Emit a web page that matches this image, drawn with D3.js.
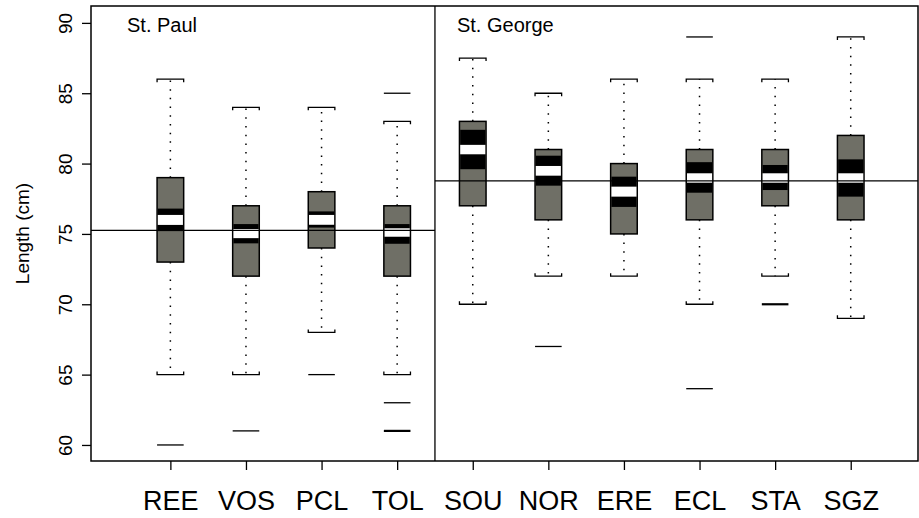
<!DOCTYPE html>
<html>
<head>
<meta charset="utf-8">
<script src="https://cdn.jsdelivr.net/npm/d3@7"></script>
<style>
    body { margin: 0; background: white; }
    text { font-family: "Liberation Sans", Arial, sans-serif; fill: black; }
</style>
</head>
<body>
<div id="chart"></div>
<script>
// values (cm)
const sites = ["REE", "VOS", "PCL", "TOL", "SOU", "NOR", "ERE", "ECL", "STA", "SGZ"]
const q1 = [73, 72, 74, 72, 77, 76, 75, 76, 77, 76]
const q3 = [79, 77, 78, 77, 83, 81, 80, 81, 81, 82]
const whiskLo = [65, 65, 68, 65, 70, 72, 72, 70, 72, 69]
const whiskHi = [86, 84, 84, 83, 87.5, 85, 86, 86, 86, 89]
// black band and the white band inside it
const bandLo = [75.2, 74.33, 75.45, 74.3, 79.6, 78.43, 76.92, 77.93, 78.12, 77.65]
const bandHi = [76.8, 75.7, 76.6, 75.7, 82.4, 80.56, 79.07, 80.1, 79.9, 80.3]
const midLo = [75.64, 74.7, 75.65, 74.8, 80.66, 79.14, 77.65, 78.64, 78.64, 78.64]
const midHi = [76.35, 75.35, 76.35, 75.4, 81.33, 79.83, 78.36, 79.31, 79.31, 79.31]
const outliers = [[60], [61], [65], [85, 63, 61, 61], [], [67], [], [89, 64], [70, 70], []]

const islands = ["St. Paul", "St. George"]
const islandMean = [75.25, 78.77]
const yTicks = [60, 65, 70, 75, 80, 85, 90]

const width = 919, height = 518
const mLeft = 91, mRight = 918, mTop = 6, mBottom = 461

const x = d3.scaleLinear().domain([-0.05, 10.89]).range([mLeft, mRight])
const y = d3.scaleLinear().domain([58.86, 91.2]).range([mBottom, mTop])
const half = 13.3
const divX = x(4.5)

const svg = d3.select("#chart").append("svg")
    .attr("width", width)
    .attr("height", height)

const g = svg.append("g")

let boxes = g.selectAll(".box")
    .data(sites.map((s, i) => ({ site: s, pos: i + 1, i: i })))
    .join("g")
    .attr("class", "box")

// whiskers (dotted)
boxes.append("line")
    .attr("x1", d => x(d.pos)).attr("x2", d => x(d.pos))
    .attr("y1", d => y(q3[d.i])).attr("y2", d => y(whiskHi[d.i]))
    .attr("stroke", "black").attr("stroke-width", 1.5)
    .attr("stroke-dasharray", "1.5,7.2")
boxes.append("line")
    .attr("x1", d => x(d.pos)).attr("x2", d => x(d.pos))
    .attr("y1", d => y(q1[d.i])).attr("y2", d => y(whiskLo[d.i]))
    .attr("stroke", "black").attr("stroke-width", 1.5)
    .attr("stroke-dasharray", "1.5,7.2")

// staples, small feet pointing back to the box
let staple = function (sel, val, dir) {
    sel.append("path")
        .attr("d", d => {
            let cx = x(d.pos), cy = y(val[d.i])
            return `M${cx - half},${cy + dir * 3}V${cy}H${cx + half}V${cy + dir * 3}`
        })
        .attr("fill", "none").attr("stroke", "black").attr("stroke-width", 1.3)
}
staple(boxes, whiskHi, 1)
staple(boxes, whiskLo, -1)

boxes.append("rect")
    .attr("x", d => x(d.pos) - half)
    .attr("width", half * 2)
    .attr("y", d => y(q3[d.i]))
    .attr("height", d => y(q1[d.i]) - y(q3[d.i]))
    .attr("fill", "#6f6f66")
    .attr("stroke", "black").attr("stroke-width", 1.5)

boxes.append("rect")
    .attr("x", d => x(d.pos) - half + 0.75)
    .attr("width", half * 2 - 1.5)
    .attr("y", d => y(bandHi[d.i]))
    .attr("height", d => y(bandLo[d.i]) - y(bandHi[d.i]))
    .attr("fill", "black")

boxes.append("rect")
    .attr("x", d => x(d.pos) - half + 0.75)
    .attr("width", half * 2 - 1.5)
    .attr("y", d => y(midHi[d.i]))
    .attr("height", d => y(midLo[d.i]) - y(midHi[d.i]))
    .attr("fill", "white")

// outliers drawn as dashes, thicker where values repeat
boxes.each(function (d) {
    let counts = d3.rollup(outliers[d.i], v => v.length, v => v)
    d3.select(this).selectAll(".out")
        .data(Array.from(counts))
        .join("line")
        .attr("class", "out")
        .attr("x1", x(d.pos) - half).attr("x2", x(d.pos) + half)
        .attr("y1", o => y(o[0])).attr("y2", o => y(o[0]))
        .attr("stroke", "black")
        .attr("stroke-width", o => o[1] > 1 ? 2.2 : 1.3)
})

// island means and panel names
islands.forEach(function (name, k) {
    let x0 = k == 0 ? mLeft : divX
    let x1 = k == 0 ? divX : mRight
    g.append("line")
        .attr("x1", x0).attr("x2", x1)
        .attr("y1", y(islandMean[k])).attr("y2", y(islandMean[k]))
        .attr("stroke", "black").attr("stroke-width", 1.3)
    g.append("text")
        .attr("x", k == 0 ? mLeft + 36 : divX + 22)
        .attr("y", 32)
        .attr("font-size", 20)
        .text(name)
})

// panel divider and frame
g.append("line")
    .attr("x1", divX).attr("x2", divX)
    .attr("y1", mTop).attr("y2", mBottom)
    .attr("stroke", "black").attr("stroke-width", 1.3)
g.append("rect")
    .attr("x", mLeft).attr("y", mTop)
    .attr("width", mRight - mLeft).attr("height", mBottom - mTop)
    .attr("fill", "none").attr("stroke", "black").attr("stroke-width", 1.5)

// axes
const yAxis = g.append("g")
    .attr("transform", `translate(${mLeft},0)`)
    .call(d3.axisLeft(y).tickValues(yTicks).tickSize(9).tickFormat(d3.format("d")))
yAxis.select(".domain").remove()
yAxis.selectAll("line").attr("stroke-width", 1.3)
yAxis.selectAll("text")
    .attr("font-size", 19)
    .attr("font-family", "Liberation Sans, Arial, sans-serif")
    .attr("fill", "black")
    .attr("text-anchor", "middle")
    .attr("x", 0).attr("y", 0).attr("dy", 0)
    .attr("transform", "translate(-19,0) rotate(-90)")

const xAxis = g.append("g")
    .attr("transform", `translate(0,${mBottom})`)
    .call(d3.axisBottom(x).tickValues(d3.range(1, 11)).tickSize(9).tickFormat(d => sites[d - 1]))
xAxis.select(".domain").remove()
xAxis.selectAll("line").attr("stroke-width", 1.3)
xAxis.selectAll("text")
    .attr("font-size", 27)
    .attr("font-family", "Liberation Sans, Arial, sans-serif")
    .attr("fill", "black")
    .attr("y", 49).attr("dy", 0)

g.append("text")
    .attr("transform", `translate(29,${(mTop + mBottom) / 2}) rotate(-90)`)
    .attr("text-anchor", "middle")
    .attr("font-size", 19)
    .text("Length (cm)")
</script>
</body>
</html>
